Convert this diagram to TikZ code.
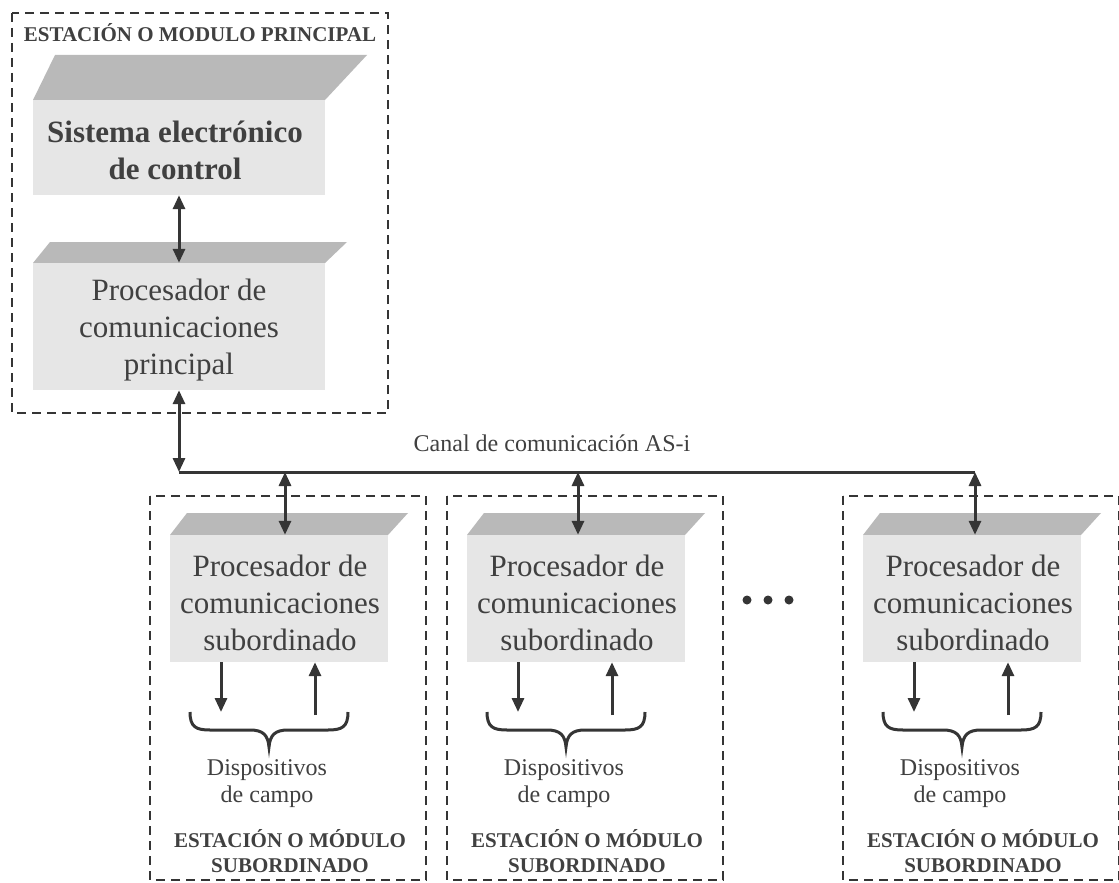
\documentclass[tikz,border=0pt]{standalone}
\usepackage{fontspec}
\setmainfont{Liberation Serif}
\usetikzlibrary{arrows.meta}
\definecolor{ink}{HTML}{353535}
\definecolor{txt}{HTML}{404040}
\definecolor{frontc}{HTML}{E6E6E6}
\definecolor{topc}{HTML}{B9B9B9}
\tikzset{
  dashbox/.style={draw=ink, line width=2.6pt, dash pattern=on 9pt off 6pt},
  front/.style={fill=frontc, draw=none, inner sep=0pt, minimum width=#1},
  topface/.style={fill=topc, draw=none},
  link/.style={draw=ink, line width=3pt, -{Triangle[length=14pt,width=12pt]}},
  dlink/.style={draw=ink, line width=3pt, {Triangle[length=14pt,width=12pt]}-{Triangle[length=14pt,width=12pt]}},
  bigtext/.style={text=txt, align=center, font=\fontsize{31}{37}\selectfont},
  smalltext/.style={text=txt, align=center, font=\fontsize{24}{27}\selectfont},
  captext/.style={text=txt, align=center, font=\bfseries\fontsize{21}{25}\selectfont},
}
\begin{document}
\begin{tikzpicture}[x=1pt,y=-1pt]
\useasboundingbox (0,0) rectangle (1119,883);
\fill[white] (0,0) rectangle (1119,883);

% main station
\draw[dashbox] (12,13) rectangle (388,413);
\node[captext] (title) at (200,33) {ESTACIÓN O MODULO PRINCIPAL};

\fill[topface] (33,100) -- (55,55) -- (367,55) -- (325,100) -- cycle;
\node[front=292pt, minimum height=95pt] (ctl) at (179,147.5) {};
\node[bigtext, font=\bfseries\fontsize{31}{37}\selectfont] (ctltext) at (175,150) {Sistema electrónico\\de control};

\fill[topface] (33,263) -- (50,242) -- (347,242) -- (325,263) -- cycle;
\node[front=292pt, minimum height=127pt] (proc) at (179,326.5) {};
\node[bigtext] (proctext) at (179,330) {Procesador de\\comunicaciones\\principal};

\draw[dlink] (ctl.south) -- (proc.north);

% bus
\coordinate (bus0) at (179,472);
\coordinate (busA) at (285,472);
\coordinate (busB) at (578,472);
\coordinate (busC) at (975,472);
\draw[draw=ink, line width=3pt] (bus0) -- (busC);
\draw[dlink] (proc.south) -- (bus0);
\node[smalltext] (canal) at (552,443) {Canal de comunicación AS-i};

% subordinate stations
\foreach \X/\n in {150/A,447/B,843/C}{
  \begin{scope}[shift={(\X,0)}]
    \draw[dashbox] (0,496) rectangle (276,880);
    \fill[topface] (20,535) -- (37,513) -- (258,513) -- (238,535) -- cycle;
    \node[front=218pt, minimum height=127pt] (sub\n) at (129,598.5) {};
    \node[bigtext] (subtext\n) at (130,603) {Procesador de\\comunicaciones\\subordinado};
    \coordinate (dn\n) at (71,712);
    \coordinate (up\n) at (165,715);
    \draw[link] (sub\n.south -| dn\n) -- (dn\n);
    \draw[link] (up\n) -- (sub\n.south -| up\n);
    \draw[draw=ink, line width=3pt]
      (40,712) .. controls (40,727) and (46,730) .. (60,730) -- (100,730)
      .. controls (113,730) and (118,735) .. (119,747)
      .. controls (120,735) and (125,730) .. (138,730) -- (178,730)
      .. controls (192,730) and (198,727) .. (198,712);
    \node[smalltext] (disp\n) at (117,784) {Dispositivos\\de campo};
    \node[captext] (cap\n) at (140,851) {ESTACIÓN O MÓDULO\\SUBORDINADO};
  \end{scope}
}
\draw[dlink] (busA) -- (subA.north -| busA);
\draw[dlink] (busB) -- (subB.north -| busB);
\draw[dlink] (busC) -- (subC.north -| busC);

% ellipsis
\foreach \x/\n in {747/1,768/2,789/3}{
  \fill[ink] (\x,600) circle (4.5pt) coordinate (dot\n);
}
\end{tikzpicture}
\end{document}
